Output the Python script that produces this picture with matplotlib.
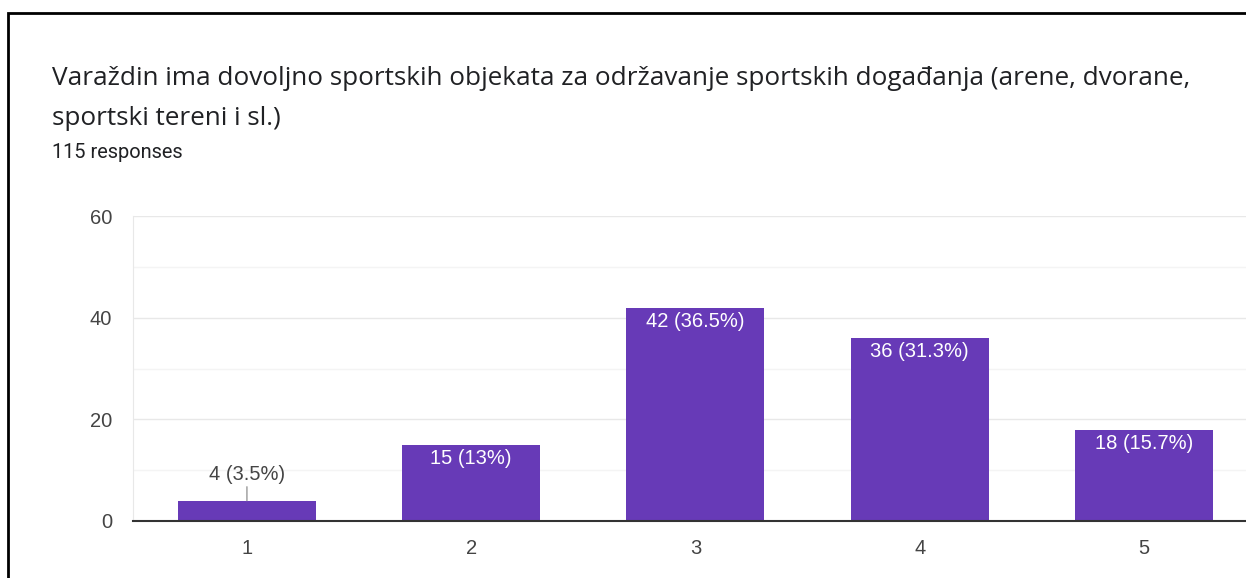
import matplotlib.pyplot as plt
from matplotlib.patches import Rectangle

# podaci s grafa
kategorije = ["1", "2", "3", "4", "5"]
odgovori = [4, 15, 42, 36, 18]
postoci = ["3.5%", "13%", "36.5%", "31.3%", "15.7%"]
naslov_1 = "Varaždin ima dovoljno sportskih objekata za održavanje sportskih događanja (arene, dvorane,"
naslov_2 = "sportski tereni i sl.)"
podnaslov = "115 responses"

ljubicasta = "#673ab7"
siva_tekst = "#444444"
font_graf = "Liberation Sans"

fig = plt.figure(figsize=(12.46, 5.78), dpi=100)
fig.patch.set_facecolor("white")

# okvir oko kartice
fig.add_artist(Rectangle((8 / 1246, -0.05), 1.1, 1 - 13 / 578 + 0.05,
                         transform=fig.transFigure, fill=False,
                         edgecolor="black", linewidth=2))

fig.text(52 / 1246, 1 - 85 / 578, naslov_1, fontsize=18.8, family="Open Sans",
         color="#202124", va="baseline")
fig.text(52 / 1246, 1 - 125 / 578, naslov_2, fontsize=18.8, family="Open Sans",
         color="#202124", va="baseline")
fig.text(52 / 1246, 1 - 158 / 578, podnaslov, fontsize=14.4, family="Roboto",
         color="#202124", va="baseline")

ax = fig.add_axes([133 / 1246, 1 - 521 / 578, 1 - 133 / 1246, (521 - 216) / 578])
x = range(len(kategorije))
ax.bar(x, odgovori, width=0.615, color=ljubicasta, zorder=3)

ax.set_ylim(0, 60)
ax.set_xlim(-0.508, 4.455)
ax.set_yticks([0, 20, 40, 60])
ax.set_xticks(list(x))
ax.set_xticklabels(kategorije)
for g in [10, 30, 50]:
    ax.axhline(g, color="#f4f4f4", linewidth=1, zorder=1)
for g in [20, 40, 60]:
    ax.axhline(g, color="#e8e8e8", linewidth=1, zorder=1)

for s in ["top", "right"]:
    ax.spines[s].set_visible(False)
ax.spines["left"].set_color("#e8e8e8")
ax.spines["bottom"].set_color("#333333")
ax.spines["bottom"].set_linewidth(1.5)
ax.spines["bottom"].set_zorder(4)
ax.tick_params(length=0, labelsize=14.5, labelcolor=siva_tekst)
ax.tick_params(axis="y", pad=15)
ax.tick_params(axis="x", pad=13)
for lbl in ax.get_xticklabels() + ax.get_yticklabels():
    lbl.set_family(font_graf)

for i, (v, p) in enumerate(zip(odgovori, postoci)):
    tekst = f"{v} ({p})"
    if v < 10:
        ax.annotate(tekst, xy=(i, v), xytext=(0, 12), textcoords="offset points",
                    ha="center", va="bottom", fontsize=14.5, family=font_graf,
                    color=siva_tekst,
                    arrowprops=dict(arrowstyle="-", color="#999999", lw=1,
                                    shrinkA=0, shrinkB=0))
    else:
        ax.annotate(tekst, xy=(i, v), xytext=(0, -3), textcoords="offset points",
                    ha="center", va="top", fontsize=14.5, family=font_graf,
                    color="white", zorder=5)

fig.savefig("out.png", dpi=100)
